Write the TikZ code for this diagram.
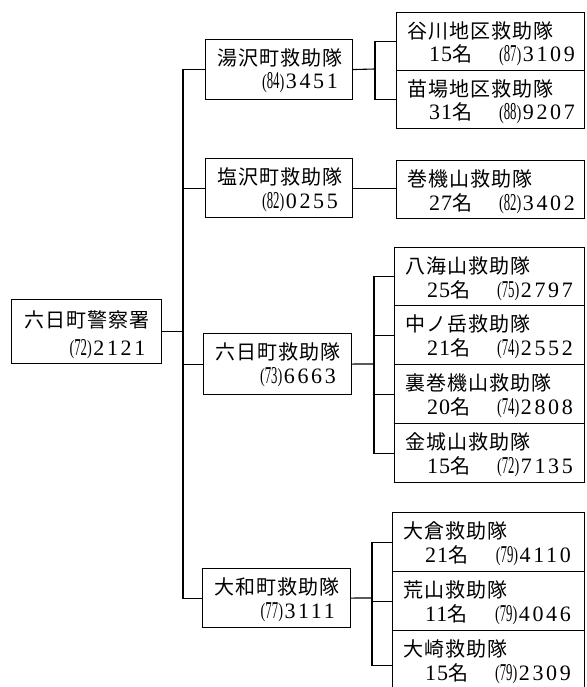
\documentclass[tikz,border=0pt]{standalone}
\usepackage{fontspec}
\usepackage{graphicx}
\newfontfamily\jpf[LetterSpace=5]{Noto Sans CJK JP}
\newfontfamily\dgf[LetterSpace=12]{Liberation Serif}
\newfontfamily\dgn{Liberation Serif}
\newcommand\pnum[1]{{\dgn\fontsize{22}{22}\selectfont\raisebox{0.6pt}{\scalebox{0.65}[0.92]{(}}\scalebox{0.58}[1.1]{#1}\raisebox{0.6pt}{\scalebox{0.65}[0.92]{)}}}}
\newcommand\telno[2]{{\pnum{#1}\hspace{1.5pt}\dgf\fontsize{22}{22}\selectfont #2}}
\newcommand\cnt[1]{{\dgf\fontsize{22}{22}\selectfont\addfontfeature{LetterSpace=4}#1}{\jpf\fontsize{20}{20}\selectfont 名}}
\usetikzlibrary{calc}
\tikzset{
  box/.style={draw, line width=1.1pt, anchor=north west, inner sep=0pt},
  ttl/.style={font=\jpf\fontsize{20}{20}\selectfont, inner sep=0pt, anchor=base west},
  numr/.style={inner sep=0pt, anchor=base east},
  numl/.style={inner sep=0pt, anchor=base west},
  conn/.style={line width=1.1pt}
}
\begin{document}
\begin{tikzpicture}[x=1pt,y=-1pt]
\useasboundingbox (0,0) rectangle (586,687);
\clip (0,0) rectangle (586,687);
\fill[white] (0,0) rectangle (586,687);
% left column
\node[box, minimum width=150.5pt, minimum height=64pt] (police) at (10.5,299) {};
\node[ttl] (policeT) at ($(police.north west)+(13.5,28.6)$) {六日町警察署};
\node[numr] (policeN) at ($(police.north west)+(135,56)$) {\telno{72}{2121}};
% second column
\node[box, minimum width=147pt, minimum height=60pt] (yuzawa) at (205,39) {};
\node[ttl] (yuzawaT) at ($(yuzawa.north west)+(12,26.6)$) {湯沢町救助隊};
\node[numr] (yuzawaN) at ($(yuzawa.north west)+(133,50)$) {\telno{84}{3451}};
\node[box, minimum width=147pt, minimum height=59pt] (shiozawa) at (205,158) {};
\node[ttl] (shiozawaT) at ($(shiozawa.north west)+(12,26.6)$) {塩沢町救助隊};
\node[numr] (shiozawaN) at ($(shiozawa.north west)+(133,50)$) {\telno{82}{0255}};
\node[box, minimum width=148pt, minimum height=61pt] (muika) at (203,333) {};
\node[ttl] (muikaT) at ($(muika.north west)+(12,26.6)$) {六日町救助隊};
\node[numr] (muikaN) at ($(muika.north west)+(133,50)$) {\telno{73}{6663}};
\node[box, minimum width=148pt, minimum height=59pt] (yamato) at (202,568) {};
\node[ttl] (yamatoT) at ($(yamato.north west)+(12,26.6)$) {大和町救助隊};
\node[numr] (yamatoN) at ($(yamato.north west)+(133,50)$) {\telno{77}{3111}};
% right column
\node[box, minimum width=188pt, minimum height=58pt] (tanigawa) at (396,12) {};
\node[box, minimum width=188pt, minimum height=58pt] (naeba) at (396,70) {};
\node[box, minimum width=188pt, minimum height=58pt] (makihata) at (396,160) {};
\node[box, minimum width=190pt, minimum height=58pt] (hakkai) at (394,247) {};
\node[box, minimum width=190pt, minimum height=59pt] (nakanodake) at (394,305) {};
\node[box, minimum width=190pt, minimum height=59pt] (uramaki) at (394,364) {};
\node[box, minimum width=190pt, minimum height=59pt] (kinjo) at (394,423) {};
\node[box, minimum width=192pt, minimum height=59pt] (okura) at (392,512) {};
\node[box, minimum width=192pt, minimum height=59pt] (arayama) at (392,571) {};
\node[box, minimum width=192pt, minimum height=70pt] (osaki) at (392,630) {};
\foreach \n/\t/\c/\a/\b in {tanigawa/谷川地区救助隊/15/87/3109, naeba/苗場地区救助隊/31/88/9207,
  makihata/巻機山救助隊/27/82/3402, hakkai/八海山救助隊/25/75/2797,
  nakanodake/中ノ岳救助隊/21/74/2552, uramaki/裏巻機山救助隊/20/74/2808,
  kinjo/金城山救助隊/15/72/7135, okura/大倉救助隊/21/79/4110,
  arayama/荒山救助隊/11/79/4046, osaki/大崎救助隊/15/79/2309}{
  \node[ttl] (\n T) at ($(\n.north west)+(11,26.6)$) {\t};
  \node[numl] (\n C) at ($(\n.north west)+(33,50)$) {\cnt{\c}};
  \node[numr] (\n N) at ($(\n.north west)+(179,50)$) {\telno{\a}{\b}};
}
% trunk
\coordinate (trunk) at (183,300);
\draw[conn] (yuzawa.west) -| (trunk) |- (yamato.west);
\draw[conn] (shiozawa.west) -- (shiozawa.west -| trunk);
\draw[conn] (muika.west) -- (muika.west -| trunk);
\draw[conn] (police.east) -- (police.east -| trunk);
% brackets
\coordinate (b1) at (375,69);
\draw[conn] (yuzawa.east) -- (b1);
\draw[conn] (tanigawa.west) -| (b1) |- (naeba.west);
\draw[conn] (shiozawa.east) -- (shiozawa.east -| makihata.west);
\coordinate (b3) at (374,364);
\draw[conn] (muika.east) -- (b3);
\draw[conn] (hakkai.west) -| (b3) |- (kinjo.west);
\draw[conn] (nakanodake.west) -- (nakanodake.west -| b3);
\draw[conn] (uramaki.west) -- (uramaki.west -| b3);
\coordinate (b4) at (372,598);
\draw[conn] (yamato.east) -- (b4);
\draw[conn] (okura.west) -| (b4) |- (osaki.west);
\draw[conn] (arayama.west) -- (arayama.west -| b4);
\end{tikzpicture}
\end{document}
